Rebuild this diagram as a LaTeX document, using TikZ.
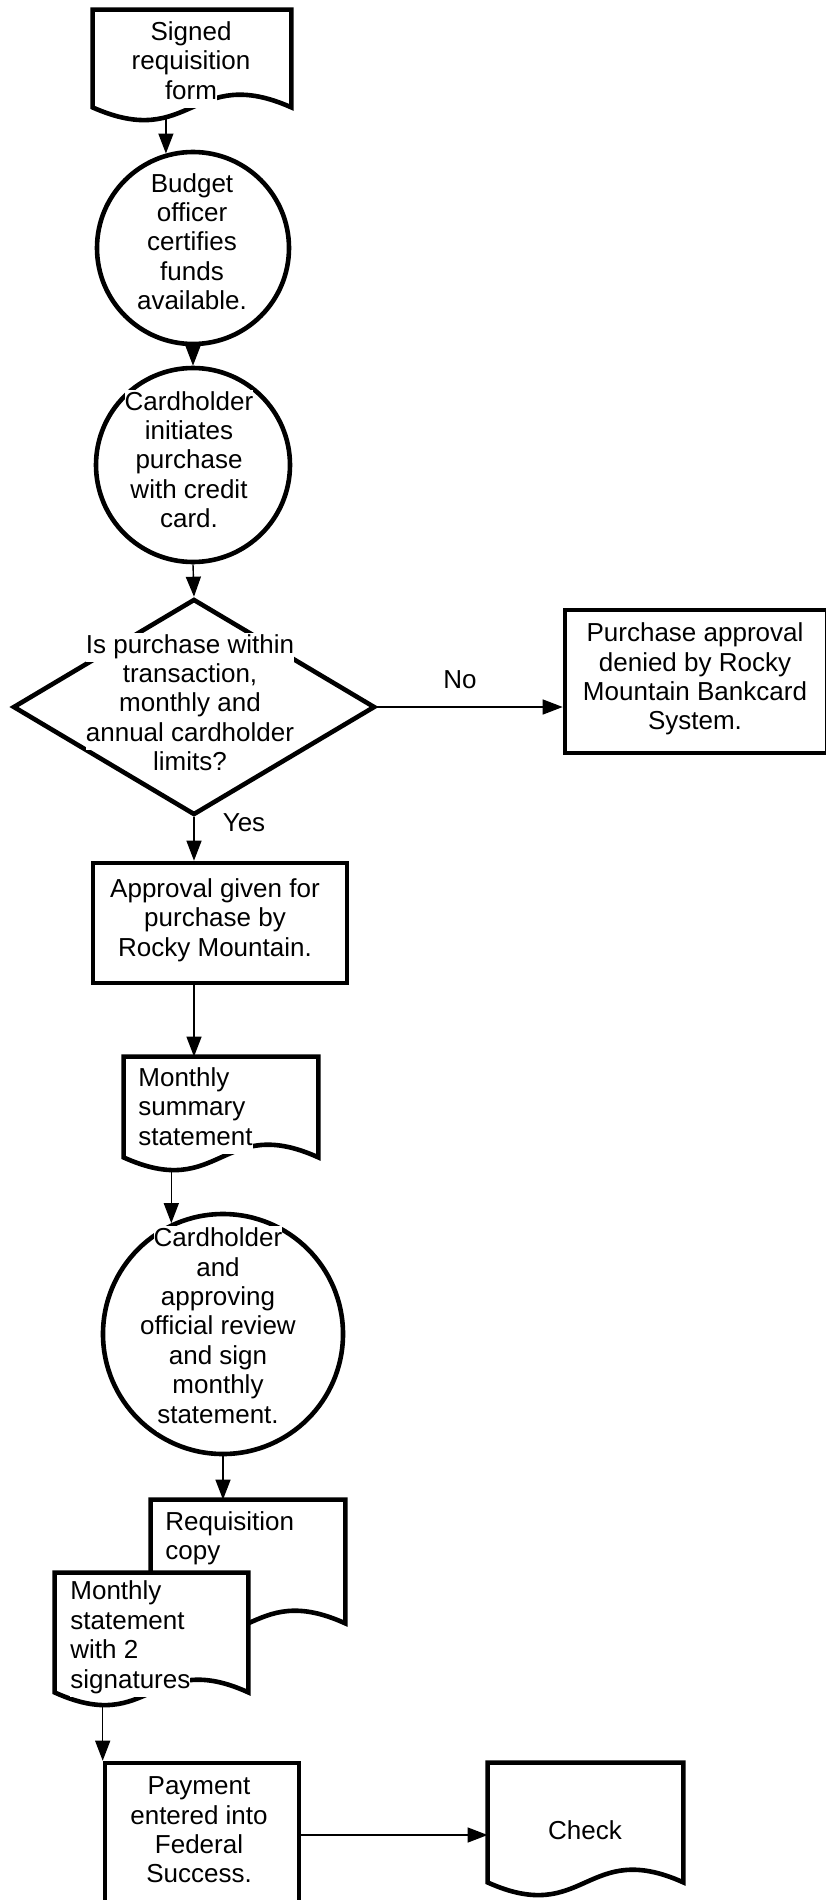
\documentclass[tikz,border=0pt]{standalone}
\usepackage{fontspec}
\setmainfont{Liberation Sans}
\usetikzlibrary{shapes.geometric,arrows.meta}
\pgfdeclarelayer{bg}
\pgfsetlayers{bg,main}

% a text line on a white ground (it hides the outline behind it)
\newcommand{\wl}[1]{{\setlength{\fboxsep}{0pt}\colorbox{white}{\strut #1}}}
% document outline round a docbox node; #2 = half its width
\newcommand{\docshape}[2]{%
  \draw[docline] (#1.south west) -- (#1.north west) -- (#1.north east) -- (#1.south east)
    .. controls +(-#2,-44) and +(#2,44) .. (#1.south west) -- cycle;}

\begin{document}
\begin{tikzpicture}[x=0.5pt, y=-0.5pt,
    shapeline/.style={draw, line width=2.3pt, fill=white},
    docbox/.style={rectangle, draw=none, inner sep=0pt},
    docline/.style={shapeline, line join=miter},
    txt/.style={font=\fontsize{13}{14.7}\selectfont, align=center, inner sep=0pt},
    txtl/.style={txt, align=left, anchor=west},
    link/.style={line width=0.7pt, -{Triangle[length=10pt,width=7.5pt]}}]

    \useasboundingbox (0,0) rectangle (825,1900);

    % Signed requisition form
    \node[docbox, minimum width=99pt, minimum height=48.5pt] (sig) at (192,58.5) {};
    \docshape{sig}{99}
    \node[txt] (sig-t) at (191,64) {\wl{Signed}\\ \wl{requisition}\\ \wl{form}};

    % Budget officer
    \node[circle, shapeline, minimum size=96pt] (c1) at (193,248) {};
    \node[txt] (c1-t) at (192,245) {\wl{Budget}\\ \wl{officer}\\ \wl{certifies}\\ \wl{funds}\\ \wl{available.}};

    % Cardholder purchase
    \node[circle, shapeline, minimum size=97pt] (c2) at (193,465) {};
    \node[txt] (c2-t) at (189,463) {\wl{Cardholder}\\ \wl{initiates}\\ \wl{purchase}\\ \wl{with credit}\\ \wl{card.}};

    % Decision
    \node[diamond, shapeline, inner sep=0pt, minimum width=181pt, minimum height=108pt] (dia) at (194,707) {};
    \node[txt] (dia-t) at (190,706) {\wl{Is purchase within}\\ \wl{transaction,}\\ \wl{monthly and}\\ \wl{annual cardholder}\\ \wl{limits?}};

    % Denied
    \node[rectangle, shapeline, minimum width=131pt, minimum height=71.5pt] (deny) at (696,681.5) {};
    \node[txt] (deny-t) at (695,679) {Purchase approval\\ denied by Rocky\\ Mountain Bankcard\\ System.};

    % Approval
    \node[rectangle, shapeline, minimum width=127pt, minimum height=60pt] (appr) at (220,923) {};
    \node[txt] (appr-t) at (215,920) {Approval given for\\ purchase by\\ Rocky Mountain.};

    % Monthly summary statement
    \node[docbox, minimum width=97pt, minimum height=50pt] (msum) at (221,1107) {};
    \docshape{msum}{97}
    \node[txtl] (msum-t) at (138,1110) {\wl{Monthly}\\ \wl{summary}\\ \wl{statement}};

    % Review and sign
    \node[circle, shapeline, minimum size=120pt] (c3) at (223,1334) {};
    \node[txt] (c3-t) at (218,1329) {\wl{Cardholder}\\ \wl{and}\\ \wl{approving}\\ \wl{official review}\\ \wl{and sign}\\ \wl{monthly}\\ \wl{statement.}};

    % Requisition copy and monthly statement
    \node[docbox, minimum width=97pt, minimum height=61.5pt] (req) at (248,1561.5) {};
    \docshape{req}{97}
    \node[txtl] (req-t) at (165,1539) {\wl{Requisition}\\ \wl{copy}};
    \node[docbox, minimum width=96.5pt, minimum height=59.5pt] (mst) at (151.5,1632.5) {};
    \docshape{mst}{96.5}
    \node[txtl] (mst-t) at (70,1638) {\wl{Monthly}\\ \wl{statement}\\ \wl{with 2}\\ \wl{signatures}};

    % Payment and check
    \node[rectangle, shapeline, minimum width=97pt, minimum height=72pt] (pay) at (202,1835) {};
    \node[txt] (pay-t) at (199,1830) {Payment\\ entered into\\ Federal\\ Success.};
    \node[docbox, minimum width=97.5pt, minimum height=59.5pt] (chk) at (585.5,1822.5) {};
    \docshape{chk}{97.5}
    \node[txt] (chk-t) at (585,1830) {Check};

    % Labels
    \node[txt] (no) at (460,680) {No};
    \node[txt] (yes) at (244,823) {Yes};

    % Connectors
    \begin{pgfonlayer}{bg}
        \draw[link] (sig.south west -| c1.106) -- (c1.106);
        \draw[link] (c1.south) -- (c2.north);
        \draw[link] (c2.south) -- (dia.north);
        \draw[link] (dia.east) -- (dia.east -| deny.west);
        \draw[link] (dia.south) -- (dia.south |- appr.north);
        \draw[link] (appr.south -| dia.south) -- (dia.south |- msum.north);
        \draw[link] (msum.south west -| c3.115) -- (c3.115);
        \draw[link] (c3.south) -- (c3.south |- req.north);
        \draw[link] (mst.south west -| pay.north west) -- (pay.north west);
        \draw[link] (pay.east) -- (pay.east -| chk.west);
    \end{pgfonlayer}

\end{tikzpicture}
\end{document}
